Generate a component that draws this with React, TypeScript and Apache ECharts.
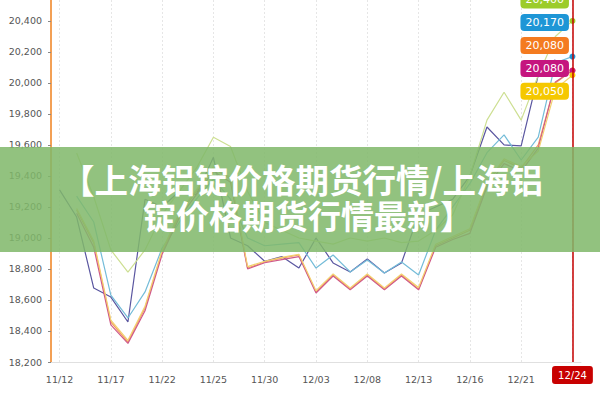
import React, { useEffect, useRef } from "react";
import * as echarts from "echarts";

const categories = ["11/12","11/13","11/15","11/17","11/18","11/19","11/22","11/23","11/24","11/25","11/26","11/29","11/30","12/01","12/02","12/03","12/06","12/07","12/08","12/09","12/10","12/13","12/14","12/15","12/16","12/17","12/20","12/21","12/22","12/23","12/24"];

const navyValues = [19310,19135,18677,18619,18458,19250,19200,19300,19280,19520,19000,18950,18850,18880,18806,19000,18839,18781,18865,18774,18839,19150,19200,19250,19400,19716,19600,19594,20050,20150,null];
const tealValues = [null,19270,19103,18632,18484,18652,18935,19100,19250,19380,19250,19000,18950,18960,18970,18806,18890,18781,18858,18774,18845,18761,19050,19200,19350,19550,19665,19503,19650,20130,20170];
const greenValues = [null,19548,19266,18923,18780,18923,19150,19300,19450,19650,19590,19300,19100,19050,19000,18980,18960,19000,18980,19000,18970,18980,19050,19150,19400,19760,19940,19760,20050,20300,20400];
const orangeValues = [null,19180,18968,18458,18329,18548,18910,19150,19300,19450,19380,18806,18845,18870,18890,18652,18761,18671,18761,18671,18761,18671,18950,19000,19050,19350,19500,19450,19600,20000,20080];
const magentaValues = [null,19160,18940,18440,18320,18530,18895,19130,19280,19430,19360,18800,18840,18860,18880,18645,18755,18665,18755,18665,18755,18665,18940,18990,19030,19330,19480,19430,19580,20006,20080];
const yellowValues = [null,19190,18980,18470,18340,18560,18920,19160,19310,19460,19390,18815,18850,18875,18895,18660,18768,18678,18768,18678,18768,18680,18960,19010,19060,19360,19510,19460,19560,19960,20050];

const yTicks = { min: 18200, max: 20535, interval: 200 };
const titleLines = ["【上海铝锭价格期货行情/上海铝", "锭价格期货行情最新】"];

const fmt = (v: number) => v.toLocaleString("en-US");

function makeSeries(name: string, values: (number | null)[], lineColor: string, tagColor: string | null, tagDy: number) {
  let last = -1;
  values.forEach((v, i) => { if (v != null) last = i; });
  const data = values.map((v, i) =>
    i === last && tagColor
      ? { value: v, symbol: "circle", symbolSize: 6, itemStyle: { color: tagColor } }
      : v
  );
  return {
    name,
    type: "line",
    data,
    symbol: "none",
    showSymbol: true,
    connectNulls: false,
    lineStyle: { color: lineColor, width: 1.2 },
    itemStyle: { color: lineColor },
    z: 3,
    endLabel: tagColor
      ? {
          show: true,
          position: "right",
          distance: 0,
          offset: [-52, tagDy],
          formatter: (p: any) => fmt(Array.isArray(p.value) ? p.value[1] : p.value),
          backgroundColor: tagColor,
          borderRadius: 4,
          padding: [2, 5],
          color: "#fff",
          fontSize: 11,
          lineHeight: 13,
          fontFamily: "Verdana, 'DejaVu Sans', sans-serif",
        }
      : { show: false },
  };
}

export default function App() {
  const ref = useRef<HTMLDivElement>(null);
  useEffect(() => {
    document.body.style.margin = "0";
    const chart = echarts.init(ref.current!, null, { renderer: "svg" });
    chart.setOption({
      animation: false,
      backgroundColor: "#fff",
      grid: { left: 51, right: 19, top: 0, bottom: 38 },
      tooltip: { show: false, triggerOn: "none" },
      xAxis: {
        type: "category",
        data: categories,
        boundaryGap: true,
        axisLine: { lineStyle: { color: "#e0e0e0" } },
        axisTick: { show: false },
        axisLabel: { interval: 2, color: "#555", fontSize: 9.5, margin: 12, fontFamily: "Verdana, 'DejaVu Sans', sans-serif" },
        splitLine: { show: true, interval: 2, alignWithLabel: true, lineStyle: { color: "#e6e6e6", type: [2, 2] } },
        axisPointer: {
          show: true,
          type: "line",
          value: 30,
          status: "show",
          triggerTooltip: false,
          lineStyle: { color: "#c40000", width: 1.5, type: "solid" },
          label: { show: true, backgroundColor: "#c80000", color: "#fff", fontSize: 10, padding: [4, 6], margin: 4, fontFamily: "Verdana, 'DejaVu Sans', sans-serif" },
        },
      },
      yAxis: {
        type: "value",
        min: yTicks.min,
        max: yTicks.max,
        interval: yTicks.interval,
        axisLine: { show: true, lineStyle: { color: "#f3a055", width: 2 } },
        axisTick: { show: true, length: 3, lineStyle: { color: "#888" } },
        splitLine: { show: false },
        axisLabel: { color: "#555", fontSize: 9.5, margin: 9, showMaxLabel: false, fontFamily: "Verdana, 'DejaVu Sans', sans-serif", formatter: (v: number) => fmt(v) },
      },
      series: [
        makeSeries("navy", navyValues, "#5a56a0", null, 0),
        makeSeries("teal", tealValues, "#74bcd8", "#1e96d6", -34),
        makeSeries("green", greenValues, "#cddf92", "#9ccc2a", -21),
        makeSeries("orange", orangeValues, "#f2a060", "#f47b20", -25),
        makeSeries("magenta", magentaValues, "#cf5a8a", "#c5157f", -2),
        makeSeries("yellow", yellowValues, "#f3d070", "#f5c800", 16),
      ],
      graphic: [
        { type: "rect", left: 0, top: 147, shape: { x: 0, y: 0, width: 600, height: 105 }, style: { fill: "rgba(128,184,106,0.86)" }, z: 100 },
        { type: "text", x: 61, y: 178, z: 101, style: { text: titleLines[0], fill: "#fff", font: "bold 33.5px 'Noto Sans CJK SC', sans-serif", textAlign: "left", textVerticalAlign: "middle" } },
        { type: "text", x: 143, y: 215, z: 101, style: { text: titleLines[1], fill: "#fff", font: "bold 33px 'Noto Sans CJK SC', sans-serif", textAlign: "left", textVerticalAlign: "middle" } },
      ],
    });
    return () => chart.dispose();
  }, []);
  return <div ref={ref} style={{ width: 600, height: 400 }} />;
}
